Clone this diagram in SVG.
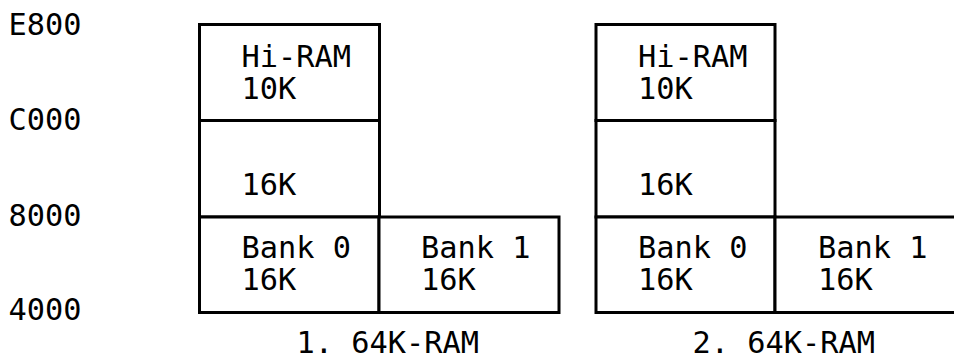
<svg xmlns="http://www.w3.org/2000/svg" width="954" height="356" viewBox="0 0 954 356">
<style>
  .box { fill: #fff; stroke: #000; stroke-width: 3; }
  text { font-family: "DejaVu Sans Mono", "Liberation Mono", monospace; font-size: 30.3px; fill: #000; }
</style>
<rect width="954" height="356" fill="#fff"/>
<g id="addresses">
  <text x="8.5" y="35">E800</text>
  <text x="8.5" y="130">C000</text>
  <text x="8.5" y="226">8000</text>
  <text x="8.5" y="320">4000</text>
</g>
<g id="conf1">
  <g id="c1-hiram">
    <rect class="box" x="199.5" y="24.5" width="180" height="96"/>
    <text x="241.5" y="66.5">Hi-RAM</text>
    <text x="241.5" y="99">10K</text>
  </g>
  <g id="c1-16k">
    <rect class="box" x="199.5" y="120.5" width="180" height="96.5"/>
    <text x="241.5" y="195">16K</text>
  </g>
  <g id="c1-bank0">
    <rect class="box" x="199.5" y="217" width="179.5" height="95.5"/>
    <text x="241.5" y="258">Bank 0</text>
    <text x="241.5" y="290">16K</text>
  </g>
  <g id="c1-bank1">
    <rect class="box" x="379" y="217" width="180" height="95.5"/>
    <text x="421" y="258">Bank 1</text>
    <text x="421" y="290">16K</text>
  </g>
  <text id="c1-label" x="296.5" y="353">1. 64K-RAM</text>
</g>
<g id="conf2">
  <g id="c2-hiram">
    <rect class="box" x="596" y="24.5" width="179" height="96"/>
    <text x="638" y="66.5">Hi-RAM</text>
    <text x="638" y="99">10K</text>
  </g>
  <g id="c2-16k">
    <rect class="box" x="596" y="120.5" width="179" height="96.5"/>
    <text x="638" y="195">16K</text>
  </g>
  <g id="c2-bank0">
    <rect class="box" x="596" y="217" width="179" height="95.5"/>
    <text x="638" y="258">Bank 0</text>
    <text x="638" y="290">16K</text>
  </g>
  <g id="c2-bank1">
    <rect class="box" x="775" y="217" width="185" height="95.5"/>
    <text x="818" y="258">Bank 1</text>
    <text x="818" y="290">16K</text>
  </g>
  <text id="c2-label" x="692.5" y="353">2. 64K-RAM</text>
</g>
<g id="connectors"/>
</svg>
